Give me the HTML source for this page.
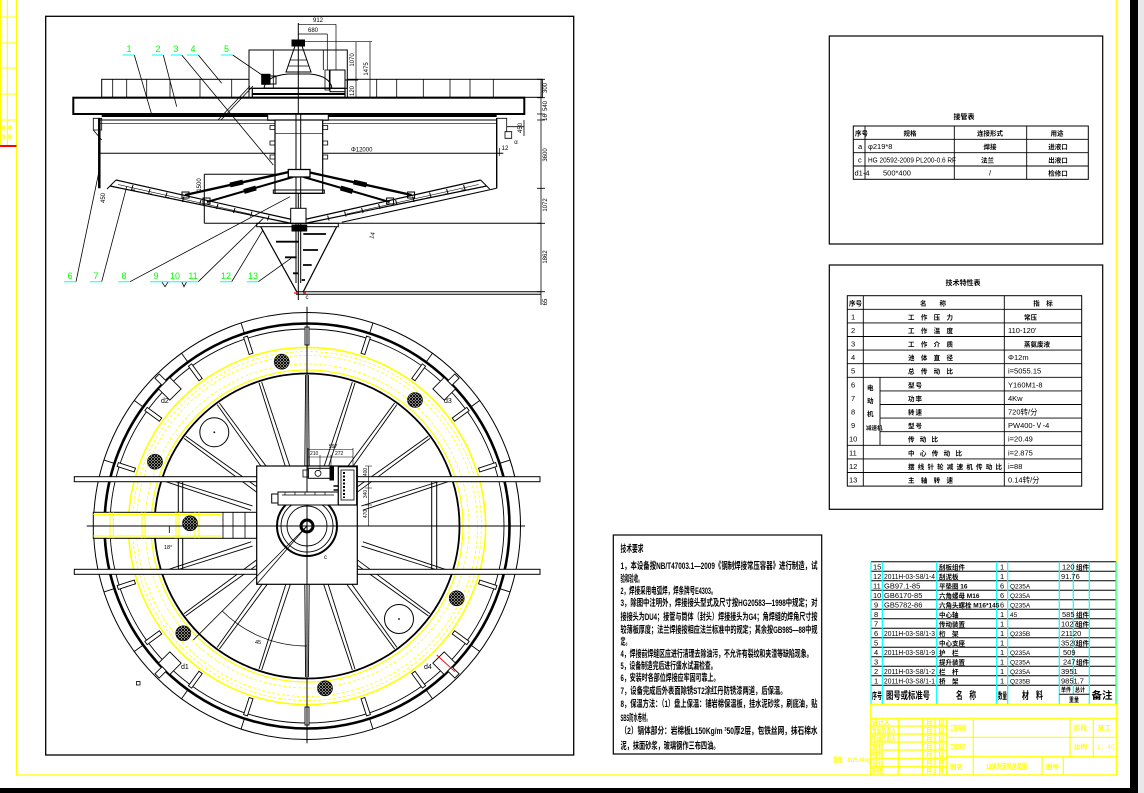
<!DOCTYPE html>
<html><head><meta charset="utf-8">
<style>
html,body{margin:0;padding:0;background:#fff;}
svg{display:block;}
text{font-family:"Liberation Sans","Noto Sans CJK SC",sans-serif;}
</style></head><body>
<svg width="1144" height="793" viewBox="0 0 1144 793" xmlns="http://www.w3.org/2000/svg">
<defs>
<pattern id="hx" width="3" height="3" patternUnits="userSpaceOnUse"><path d="M0 0L3 3M3 0L0 3" stroke="#000" stroke-width="1"/></pattern>
<g id="sp" stroke="#000" stroke-width="0.9" fill="none"><line x1="365" y1="523.8" x2="458" y2="524.6"/><line x1="365" y1="528.2" x2="458" y2="527.4"/></g>
<g id="sl" stroke="#000" stroke-width="0.9"><rect x="488" y="524" width="18" height="4" fill="#fff"/><line x1="509" y1="526" x2="520.5" y2="526"/></g>
<g id="mh" stroke="#000" stroke-width="0.9" fill="#fff"><rect x="493" y="518" width="16" height="16"/><rect x="509" y="523" width="10" height="6"/></g>
<g id="halfL" fill="none" stroke="#000">
<line x1="116" y1="180" x2="292" y2="219.5" stroke-width="1.2"/>
<line x1="110" y1="186" x2="292" y2="223.5" stroke-width="1.2"/>
<line x1="107" y1="189" x2="116" y2="180" stroke-width="1"/>
<line x1="118" y1="184.5" x2="250" y2="214" stroke-width="0.6"/>
<path d="M133 185l-1.5 5M150 189l-1.5 5M167 192.5l-1.5 5M184 196.5l-1.5 5M201 200l-1.5 5M218 204l-1.5 5M235 208l-1.5 5M252 211.5l-1.5 5M269 215.5l-1.5 5" stroke-width="1"/>
<path d="M131 190h4M148 194h4M165 197.5h4M182 201.5h4" stroke-width="0.8"/>
<line x1="289" y1="172" x2="185" y2="195" stroke-width="2.4"/>
<line x1="230" y1="185" x2="243" y2="182" stroke-width="5"/>
<line x1="293" y1="177" x2="207" y2="202" stroke-width="2"/>
<line x1="244" y1="191.5" x2="256" y2="188" stroke-width="5"/>
<rect x="182" y="192" width="7" height="6" stroke-width="1"/>
<rect x="203" y="198" width="7" height="6" stroke-width="1"/>
</g>
</defs>
<rect width="1144" height="793" fill="#fff"/>

<!-- outer borders -->
<path d="M16.5 0V775H1116.7V0" fill="none" stroke="#ffff00" stroke-width="1.2"/>
<g stroke="#ffff00" stroke-width="1"><line x1="7.3" y1="0" x2="7.3" y2="146"/><line x1="0.5" y1="0" x2="0.5" y2="146"/>
<line x1="0" y1="17" x2="16.5" y2="17"/><line x1="0" y1="43" x2="16.5" y2="43"/><line x1="0" y1="68" x2="16.5" y2="68"/><line x1="0" y1="94" x2="16.5" y2="94"/><line x1="0" y1="120" x2="16.5" y2="120"/></g>
<text x="1" y="130" font-size="5" fill="#ffff00" font-weight="bold">号 项</text>
<text x="1" y="139" font-size="5" fill="#ffff00" font-weight="bold">描 图</text>
<line x1="0" y1="146" x2="16.5" y2="146" stroke="#ff0000" stroke-width="2"/>
<rect x="1130" y="0" width="8" height="790" fill="#000"/>
<rect x="1138" y="0" width="6" height="793" fill="#e8e8ea"/>
<rect x="0" y="788" width="1138" height="5" fill="#000"/>

<rect x="45.7" y="16.3" width="528" height="738.7" fill="none" stroke="#000" stroke-width="1.3"/>

<!-- ================= ELEVATION ================= -->
<g stroke="#000" fill="none">
<rect x="101.7" y="79.3" width="147.3" height="18" stroke-width="1"/>
<rect x="347.3" y="79.3" width="195" height="18" stroke-width="1"/>
<path d="M112.7 79.3V97.3M126.7 79.3V97.3M146.7 79.3V97.3M170 79.3V97.3M200 79.3V97.3M231.7 79.3V97.3M376.7 79.3V97.3M396.7 79.3V97.3M423.3 79.3V97.3M450 79.3V97.3M470 79.3V97.3M493.3 79.3V97.3" stroke-width="0.8"/>
<rect x="249" y="50" width="98.3" height="38.3" stroke-width="1"/>
<path d="M273.3 50V88M323.3 50V70" stroke-width="0.8"/>
<rect x="252.3" y="88.3" width="92.7" height="9" stroke-width="1.2"/>
<line x1="252" y1="94" x2="345" y2="94" stroke-width="2"/>
<rect x="292" y="40" width="12.5" height="6" fill="#000"/>
<path d="M295 46L286 72H311L302 46Z" stroke-width="1"/>
<path d="M290 60H307M288 66H309" stroke-width="0.7"/>
<path d="M264 88Q266 76 288 74H310Q330 76 332 88Z" stroke-width="1"/>
<rect x="261.7" y="74.3" width="8.3" height="10" fill="#000"/>
<rect x="270" y="76" width="6" height="8" stroke-width="1"/>
<rect x="330" y="70" width="15" height="21.7" stroke-width="1"/>
<rect x="325" y="70" width="4.3" height="20" stroke-width="0.8"/>
<path d="M345 80H358" stroke-width="1"/>
<line x1="298.3" y1="23" x2="298.3" y2="300" stroke-width="1"/>
<path d="M298.3 24.3H336M298.3 34H327.3M327.3 34V70M336 24.3V70M298.3 41.7H372M356 41.7V97M370 41.7V97.3M345 97.3H372" stroke-width="0.7"/>
<rect x="73.3" y="97.7" width="451" height="16.3" stroke-width="2"/>
<rect x="101.7" y="114" width="395" height="3" fill="#000" stroke="none"/>
<rect x="267.7" y="114.3" width="60.6" height="6" fill="#fff" stroke-width="1"/>
<line x1="99.3" y1="120" x2="496.7" y2="120" stroke-width="1"/>
<line x1="99.3" y1="123.3" x2="496.7" y2="123.3" stroke-width="0.7"/>
<line x1="99.3" y1="118" x2="99.3" y2="188.3" stroke-width="2.5"/>
<line x1="496.7" y1="118" x2="496.7" y2="188.3" stroke-width="1.4"/>
<path d="M93.3 118.3H101.7V130H93.3ZM93.3 130L101.7 140" stroke-width="0.8"/>
<path d="M496.7 118.3H506.7V131.7M505 131.7H511.7V138.3H505ZM506.7 126.7H524M524 120V136" stroke-width="0.8"/>
<line x1="99.3" y1="153.3" x2="503.3" y2="153.3" stroke-width="1"/>
<line x1="499.3" y1="148" x2="499.3" y2="156" stroke-width="0.7"/>
<path d="M496.7 188.3L341.7 222.3" stroke-width="1"/>
<rect x="275" y="120" width="47.7" height="73.3" fill="#fff" stroke-width="1.2"/>
<line x1="275" y1="133.3" x2="322.7" y2="133.3" stroke-width="0.7"/>
<rect x="273.3" y="190" width="51" height="3.3" stroke-width="1"/>
<path d="M270 125.5h5v4h-5zM270 141h5v4h-5zM270 155h5v4h-5zM322.7 125.5h5v4h-5zM322.7 141h5v4h-5zM322.7 155h5v4h-5z" stroke-width="0.8"/>
<line x1="296" y1="114" x2="296" y2="283" stroke-width="1"/>
<line x1="300.7" y1="114" x2="300.7" y2="283" stroke-width="1"/>
<use href="#halfL"/>
<use href="#halfL" transform="translate(596.6 0) scale(-1 1)"/>
<rect x="288.3" y="169.5" width="21.7" height="7.5" fill="#fff" stroke-width="1.3"/>
<path d="M204.3 174.3H275M204.3 174.3V223.3M204.3 223.3H541" stroke-width="1"/>
<rect x="290.7" y="208.3" width="15.3" height="15" fill="#fff" stroke-width="1"/>
<rect x="256.7" y="223.3" width="81.6" height="3.4" stroke-width="1"/>
<rect x="292" y="225" width="14.7" height="6" fill="#000"/>
<path d="M260.7 226.7L296.7 291.7M336.7 226.7L303.3 291.7" stroke-width="1.2"/>
<path d="M303.3 234H326M276 241.7H299M303 250H318M285 257.3H296.7M303 265H311.7M293 273.3H298M301.7 280H305" stroke-width="1.8"/>
<path d="M296 291.7H541M296 294.3H541" stroke-width="1"/>
<path d="M294 293h4M303 293h3" stroke="#ff0000" stroke-width="1.2"/>
<line x1="541" y1="79.3" x2="541" y2="305" stroke-width="0.8"/>
<path d="M537 79.3H545M537 97.7H545M537 114H545M537 120H545M537 188.3H545M537 223.3H545M537 291.7H545" stroke-width="0.8"/>
<path d="M134.3 55L152.3 116.7M163.3 55L176.7 106.7M181.7 55L273.3 165M198.3 55L221.7 83.3M232.7 55L262 75M76 281.7L99.3 170M101.7 281.7L126.7 186.7M130 281.7L290 196.7M198.3 281.7L263.3 218.3M231.7 281.7L263 230M258.3 281.7L291 258.3M161.7 281.7L165 286.7L168.3 281.7M181.7 281.7L184 286.7L186.7 281.7" stroke-width="0.8"/>
<path d="M250 86L218 120M253 86L221 120" stroke-width="0.8"/>
</g>
<g stroke="#00ffff" stroke-width="1">
<path d="M122.7 55H134.3M152 55H163.3M170.7 55H181.7M186.7 55H198.3M221 55H232.7M64 281.7H76M90 281.7H101.7M118.3 281.7H130M150 281.7H186.7M186.7 281.7H198.3M220 281.7H231.7M246.7 281.7H258.3"/>
</g>
<g fill="#00ff00" font-size="9" text-anchor="middle">
<text x="129" y="52">1</text><text x="158" y="52">2</text><text x="176" y="52">3</text><text x="193" y="52">4</text><text x="226.5" y="52">5</text>
<text x="70" y="279">6</text><text x="96" y="279">7</text><text x="124" y="279">8</text><text x="156" y="279">9</text><text x="175" y="279">10</text><text x="193" y="279">11</text><text x="226" y="279">12</text><text x="253" y="279">13</text>
</g>
<g font-size="6" fill="#000" text-anchor="middle">
<text x="318" y="22">912</text><text x="313" y="32">680</text>
<text transform="translate(368 69) rotate(-90)">1475</text>
<text transform="translate(354 60) rotate(-90)">1070</text>
<text transform="translate(354 91) rotate(-90)">120</text>
<text x="361.7" y="151.5">Φ12000</text>
<text x="505" y="150">12</text>
<text x="516" y="144">α</text>
<text transform="translate(522 128) rotate(-90)">450</text>
<text transform="translate(201 185) rotate(-90)">1500</text>
<text transform="translate(105 198) rotate(-90)">450</text>
<text transform="translate(374 236) rotate(-75)">14</text>
<text x="307" y="299">c</text>
<text transform="translate(547 88) rotate(-90)">300</text>
<text transform="translate(547 106) rotate(-90)">540</text>
<text transform="translate(547 117.5) rotate(-90)">16</text>
<text transform="translate(547 155) rotate(-90)">3600</text>
<text transform="translate(547 205) rotate(-90)">1072</text>
<text transform="translate(547 257) rotate(-90)">1862</text>
<text transform="translate(547 302) rotate(-90)">65</text>
</g>

<!-- ================= PLAN ================= -->
<g stroke="#000" fill="none">
<use href="#sp" transform="rotate(18 307 526)"/><use href="#sp" transform="rotate(36 307 526)"/><use href="#sp" transform="rotate(54 307 526)"/><use href="#sp" transform="rotate(72 307 526)"/><use href="#sp" transform="rotate(90 307 526)"/><use href="#sp" transform="rotate(108 307 526)"/><use href="#sp" transform="rotate(126 307 526)"/><use href="#sp" transform="rotate(144 307 526)"/><use href="#sp" transform="rotate(162 307 526)"/>
<use href="#sp" transform="rotate(198 307 526)"/><use href="#sp" transform="rotate(216 307 526)"/><use href="#sp" transform="rotate(234 307 526)"/><use href="#sp" transform="rotate(252 307 526)"/><use href="#sp" transform="rotate(270 307 526)"/><use href="#sp" transform="rotate(288 307 526)"/><use href="#sp" transform="rotate(306 307 526)"/><use href="#sp" transform="rotate(324 307 526)"/><use href="#sp" transform="rotate(342 307 526)"/>
<circle cx="307" cy="526" r="213.5" stroke-width="1"/>
<circle cx="307" cy="526" r="202.5" stroke-width="2.6"/>
<circle cx="307" cy="526" r="197" stroke-width="0.9"/>
<circle cx="307" cy="526" r="152.5" stroke-width="1.8"/>
</g>
<g fill="none" stroke="#ffff00">
<circle cx="307" cy="526" r="178.6" stroke-width="1.6"/>
<circle cx="307" cy="526" r="174.5" stroke-width="0.8" stroke-dasharray="3 2"/>
<circle cx="307" cy="526" r="170.5" stroke-width="0.8" stroke-dasharray="3 2"/>
<circle cx="307" cy="526" r="162" stroke-width="0.8" stroke-dasharray="3 2"/>
<circle cx="307" cy="526" r="156" stroke-width="1.2"/>
</g>
<g>
<use href="#sl" transform="rotate(18 307 526)"/><use href="#sl" transform="rotate(36 307 526)"/><use href="#sl" transform="rotate(54 307 526)"/><use href="#sl" transform="rotate(72 307 526)"/><use href="#sl" transform="rotate(90 307 526)"/><use href="#sl" transform="rotate(108 307 526)"/><use href="#sl" transform="rotate(126 307 526)"/><use href="#sl" transform="rotate(144 307 526)"/><use href="#sl" transform="rotate(162 307 526)"/>
<use href="#sl" transform="rotate(198 307 526)"/><use href="#sl" transform="rotate(216 307 526)"/><use href="#sl" transform="rotate(234 307 526)"/><use href="#sl" transform="rotate(252 307 526)"/><use href="#sl" transform="rotate(270 307 526)"/><use href="#sl" transform="rotate(288 307 526)"/><use href="#sl" transform="rotate(306 307 526)"/><use href="#sl" transform="rotate(324 307 526)"/><use href="#sl" transform="rotate(342 307 526)"/>
<use href="#mh" transform="rotate(-135 307 526)"/><use href="#mh" transform="rotate(-45 307 526)"/><use href="#mh" transform="rotate(135 307 526)"/><use href="#mh" transform="rotate(45 307 526)"/>
</g>
<line x1="436.7" y1="655" x2="455" y2="671.7" stroke="#ff0000" stroke-width="0.9"/>
<g stroke="#000" stroke-width="1">
<rect x="74.3" y="476.7" width="465.7" height="5" fill="#fff"/>
<rect x="74.3" y="569.3" width="465.7" height="5" fill="#fff"/>
<path d="M178.3 481.7V569.3M182.7 481.7V569.3M431.7 481.7V569.3M436.7 481.7V569.3" fill="none"/>
<rect x="93.3" y="512.3" width="163.4" height="26" fill="#fff"/>
<path d="M223 512.3V538.3M233 512.3V538.3M245 512.3V538.3" fill="none" stroke-width="0.8"/>
</g>
<g stroke="#ffff00" stroke-width="1" fill="none">
<path d="M93.3 514.5H222M93.3 536H222M110 512.3V538.3M113.3 512.3V538.3M142 512.3V538.3M145 512.3V538.3M176 512.3V538.3M179 512.3V538.3M195 512.3V538.3M199 512.3V538.3"/>
</g>
<rect x="256.7" y="466" width="100.6" height="118.3" fill="#fff" stroke="#000" stroke-width="1.2"/>
<g stroke="#000" fill="none">
<line x1="307" y1="306.7" x2="307" y2="743.3" stroke-width="1"/>
<line x1="86.7" y1="526" x2="525" y2="526" stroke-width="1"/>
<circle cx="307" cy="526" r="30" stroke-width="2"/>
<circle cx="307" cy="526" r="26" stroke-width="0.9"/>
<circle cx="307" cy="526" r="20" stroke-width="0.9"/>
<circle cx="307" cy="526" r="6" stroke-width="3"/>
<line x1="307" y1="526" x2="256.7" y2="584.3" stroke-width="0.8"/>
<rect x="278" y="492" width="60.3" height="13" fill="#fff" stroke-width="1"/>
<rect x="271.7" y="494" width="6.3" height="9" stroke-width="1"/>
<path d="M282 495h52M285 492v3M295 492v3M305 492v3M315 492v3M325 492v3" stroke-width="0.7"/>
<rect x="308.3" y="468.3" width="21.7" height="10" fill="#fff" stroke-width="1"/>
<circle cx="318" cy="473.3" r="3" stroke-width="0.8"/>
<rect x="303" y="470" width="5.3" height="7" stroke-width="0.8"/>
<rect x="330" y="467" width="3.5" height="13" fill="#000"/>
<rect x="338.3" y="466.7" width="18.4" height="38.3" fill="#fff" stroke-width="1.2"/>
<rect x="341" y="470" width="13" height="30" stroke-width="0.8"/>
<path d="M344 472v26" stroke-width="2" stroke-dasharray="2 1.5"/>
<path d="M333.5 486h5M333.5 490h5" stroke-width="1.5"/>
<path d="M308 449.5H353M308 457H353M308 448V470M320 455V470M331 455V470M353 448V466M368.7 466V526M365 466H372M365 488H372M365 505H372" stroke-width="0.6"/>
<path d="M307 646A120 120 0 0 1 222.1 610.9" stroke-width="0.7"/>
<line x1="307" y1="526" x2="193.3" y2="640" stroke-width="0.8"/>
<line x1="169.3" y1="526" x2="169.3" y2="533" stroke-width="0.8"/>
<circle cx="214.3" cy="432.3" r="14.5" stroke-width="1"/>
<circle cx="399" cy="619" r="14.5" stroke-width="1"/>
<rect x="136.5" y="681.5" width="3.5" height="3.5" stroke-width="0.8"/>
</g>
<circle cx="214.3" cy="432.3" r="0.9" fill="#000"/><circle cx="399" cy="619" r="0.9" fill="#000"/>
<g fill="url(#hx)" stroke="#000" stroke-width="0.6">
<circle cx="281.7" cy="361.7" r="7.5"/><circle cx="415" cy="400" r="7.5"/><circle cx="155" cy="461.7" r="7.5"/><circle cx="190" cy="523.3" r="7.5"/><circle cx="183.3" cy="633.3" r="7.5"/><circle cx="456.7" cy="598.3" r="7.5"/><circle cx="325" cy="688.3" r="7.5"/>
</g>
<g font-size="7" fill="#000">
<text x="161" y="403">d2</text><text x="444" y="403">d3</text><text x="181" y="669">d1</text><text x="424" y="669">d4</text>
<text x="164" y="549" font-size="5.5">18°</text>
<text x="255" y="644" font-size="5.5">45</text>
<text x="324" y="559" font-size="6">c</text>
<text x="329" y="448" font-size="5">597</text>
<text x="310" y="455" font-size="5">210</text><text x="335" y="455" font-size="5">272</text>
<text transform="translate(367 472) rotate(-90)" font-size="5" text-anchor="middle">400</text>
<text transform="translate(367 494) rotate(-90)" font-size="5" text-anchor="middle">340</text>
<text transform="translate(367 514) rotate(-90)" font-size="5" text-anchor="middle">470</text>
</g>

<!-- ================= TABLE 1 ================= -->
<g stroke="#000" fill="none">
<rect x="829.3" y="36" width="273.4" height="208" stroke-width="1.2"/>
<rect x="853.3" y="126" width="235" height="53.3" stroke-width="1"/>
<path d="M853.3 139.3H1088.3M853.3 152.7H1088.3M853.3 166H1088.3M865 126V179.3M954.3 126V179.3M1026.7 126V179.3" stroke-width="0.9"/>
<rect x="829.3" y="265" width="273.4" height="244.3" stroke-width="1.2"/>
<rect x="847.3" y="295.7" width="234.4" height="190.4" stroke-width="1"/>
<path d="M847.3 309.3H1081.7M847.3 322.9H1081.7M847.3 336.5H1081.7M847.3 350.1H1081.7M847.3 363.7H1081.7M847.3 377.3H1081.7M880 390.9H1081.7M880 404.5H1081.7M880 418.1H1081.7M880 431.7H1081.7M847.3 445.3H1081.7M847.3 458.9H1081.7M847.3 472.5H1081.7M863.3 295.7V486.1M1004.3 295.7V486.1M880 377.3V445.3" stroke-width="0.9"/>
</g>
<g font-size="7.5" fill="#000" font-weight="bold">
<text x="964" y="119" text-anchor="middle" font-size="7">接管表</text>
<text x="855" y="135.5" font-size="6.5">序号</text>
<text x="910" y="135.5" text-anchor="middle" font-size="6.5">规格</text>
<text x="990" y="135.5" text-anchor="middle" font-size="6.5">连接形式</text>
<text x="1057" y="135.5" text-anchor="middle" font-size="6.5">用途</text>
<text x="858" y="149" font-weight="normal">a</text><text x="868" y="149" font-weight="normal">φ219*8</text><text x="990" y="149" text-anchor="middle" font-size="6.5">焊接</text><text x="1058" y="149" text-anchor="middle" font-size="6.5">进液口</text>
<text x="858" y="162.3" font-weight="normal">c</text><text x="868" y="162.3" font-weight="normal" textLength="88" lengthAdjust="spacingAndGlyphs">HG 20592-2009  PL200-0.6 RF</text><text x="981" y="162.3" font-size="6.5">法兰</text><text x="1058" y="162.3" text-anchor="middle" font-size="6.5">出液口</text>
<text x="854.5" y="175.5" font-weight="normal">d1-4</text><text x="883" y="175.5" font-weight="normal">500*400</text><text x="990" y="175.5" text-anchor="middle" font-weight="normal">/</text><text x="1058" y="175.5" text-anchor="middle" font-size="6.5">检修口</text>
</g>
<g font-size="7.5" fill="#000" font-weight="bold">
<text x="963" y="285" text-anchor="middle" font-size="7">技术特性表</text>
<text x="849" y="305.5" font-size="6.5">序号</text>
<text x="933" y="305.5" text-anchor="middle" font-size="6.5">名　　称</text>
<text x="1043" y="305.5" text-anchor="middle" font-size="6.5">指　标</text>
<g font-weight="normal">
<text x="851" y="319.3">1</text><text x="851" y="332.9">2</text><text x="851" y="346.5">3</text><text x="851" y="360.1">4</text><text x="851" y="373.7">5</text><text x="851" y="387.3">6</text><text x="851" y="400.9">7</text><text x="851" y="414.5">8</text><text x="851" y="428.1">9</text><text x="849" y="441.7">10</text><text x="849" y="455.3">11</text><text x="849" y="468.9">12</text><text x="849" y="482.5">13</text>
</g>
<g font-size="6.5">
<text x="908" y="319.3" textLength="45">工作压力</text>
<text x="908" y="332.9" textLength="45">工作温度</text>
<text x="908" y="346.5" textLength="45">工作介质</text>
<text x="908" y="360.1" textLength="45">池体直径</text>
<text x="908" y="373.7" textLength="45">总传动比</text>
<text x="908" y="387.3" textLength="14">型号</text>
<text x="908" y="400.9" textLength="14">功率</text>
<text x="908" y="414.5" textLength="14">转速</text>
<text x="908" y="428.1" textLength="14">型号</text>
<text x="908" y="441.7" textLength="30">传动比</text>
<text x="908" y="455.3" textLength="54">中心传动比</text>
<text x="908" y="468.9" textLength="94">摆线针轮减速机传动比</text>
<text x="908" y="482.5" textLength="45">主轴转速</text>
<text x="867" y="390">电</text><text x="867" y="403">动</text><text x="867" y="416">机</text>
<text x="866" y="430" font-size="5.5">减速机</text>
<text x="1024" y="319.3">常压</text>
<text x="1024" y="346.5">蒸氨废液</text>
</g>
<g font-weight="normal">
<text x="1008" y="332.9">110-120'</text>
<text x="1008" y="360.1">Φ12m</text>
<text x="1008" y="373.7">i=5055.15</text>
<text x="1008" y="387.3">Y160M1-8</text>
<text x="1008" y="400.9">4Kw</text>
<text x="1008" y="414.5">720转/分</text>
<text x="1008" y="428.1">PW400-Ⅴ-4</text>
<text x="1008" y="441.7">i=20.49</text>
<text x="1008" y="455.3">i=2.875</text>
<text x="1008" y="468.9">i=88</text>
<text x="1008" y="482.5">0.14转/分</text>
</g>
</g>

<!-- ================= TECH REQ ================= -->
<rect x="613.3" y="535" width="208.4" height="219" fill="none" stroke="#000" stroke-width="1.2"/>
<g font-size="9.5" fill="#000" font-weight="bold">
<text x="620.5" y="552" textLength="23" lengthAdjust="spacingAndGlyphs">技术要求</text>
<text x="620.5" y="569" textLength="197" lengthAdjust="spacingAndGlyphs">1，本设备按NB/T47003.1—2009《钢制焊接常压容器》进行制造，试</text>
<text x="620.5" y="582" textLength="22" lengthAdjust="spacingAndGlyphs">验和验收。</text>
<text x="620.5" y="594" textLength="96" lengthAdjust="spacingAndGlyphs">2，焊接采用电弧焊，焊条牌号E4303。</text>
<text x="620.5" y="606" textLength="197" lengthAdjust="spacingAndGlyphs">3，除图中注明外，焊接接头型式及尺寸按HG20583—1998中规定；对</text>
<text x="620.5" y="620" textLength="197" lengthAdjust="spacingAndGlyphs">接接头为DU4；接管与筒体（封头）焊接接头为G4；角焊缝的焊角尺寸按</text>
<text x="620.5" y="633" textLength="197" lengthAdjust="spacingAndGlyphs">较薄板厚度；法兰焊接按相应法兰标准中的规定；其余按GB985—88中规</text>
<text x="620.5" y="645" textLength="10" lengthAdjust="spacingAndGlyphs">定。</text>
<text x="620.5" y="657" textLength="192" lengthAdjust="spacingAndGlyphs">4，焊接前焊缝区应进行清理去除油污，不允许有裂纹和夹渣等缺陷现象。</text>
<text x="620.5" y="669" textLength="96" lengthAdjust="spacingAndGlyphs">5，设备制造完后进行盛水试漏检查。</text>
<text x="620.5" y="681" textLength="99" lengthAdjust="spacingAndGlyphs">6，安装时各部位焊接应牢固可靠上。</text>
<text x="620.5" y="694" textLength="166" lengthAdjust="spacingAndGlyphs">7，设备完成后外表面除锈ST2涂红丹防锈漆两道，后保温。</text>
<text x="620.5" y="707" textLength="197" lengthAdjust="spacingAndGlyphs">8，保温方法：（1）盘上保温：铺岩棉保温板，挂水泥砂浆，刷底油，贴</text>
<text x="620.5" y="721" textLength="30" lengthAdjust="spacingAndGlyphs">SBS防水卷材。</text>
<text x="620.5" y="734" textLength="197" lengthAdjust="spacingAndGlyphs">（2）锅体部分：岩棉板L150Kg/m ³50厚2层，包铁丝网，抹石棉水</text>
<text x="620.5" y="749" textLength="99" lengthAdjust="spacingAndGlyphs">泥，抹面砂浆，玻璃钢作三布四油。</text>
</g>

<!-- ================= PARTS LIST ================= -->
<g stroke="#000" stroke-width="1">
<path d="M871 561.7H1116M871 571.2H1116M871 580.7H1116M871 590.2H1116M871 599.7H1116M871 609.2H1116M871 618.7H1116M871 628.3H1116M871 637.8H1116M871 647.3H1116M871 656.8H1116M871 666.3H1116M871 675.8H1116M871 685.3H1116"/>
</g>
<g stroke="#00ffff" stroke-width="1.2">
<path d="M871 561.7V704.3M882.3 561.7V704.3M936.7 561.7V704.3M996.7 561.7V704.3M1007.7 561.7V704.3M1059.3 561.7V704.3M1073.3 561.7V694.3M1089.3 561.7V704.3M1116 561.7V704.3"/>
</g>
<line x1="1059.3" y1="694.3" x2="1089.3" y2="694.3" stroke="#000" stroke-width="1"/>
<g font-size="7.5" fill="#000">
<text x="873" y="569.5">15</text><text x="873" y="579">12</text><text x="873" y="588.5">11</text><text x="873" y="598">10</text><text x="874" y="607.5">9</text><text x="874" y="617">8</text><text x="874" y="626.5">7</text><text x="874" y="636">6</text><text x="874" y="645.5">5</text><text x="874" y="655">4</text><text x="874" y="664.5">3</text><text x="874" y="674">2</text><text x="874" y="683.5">1</text>
<text x="884" y="579" textLength="51" lengthAdjust="spacingAndGlyphs">2011H-03-S8/1-4</text>
<text x="884" y="588.5">GB97.1-85</text>
<text x="884" y="598">GB6170-85</text>
<text x="884" y="607.5">GB5782-86</text>
<text x="884" y="636" textLength="51" lengthAdjust="spacingAndGlyphs">2011H-03-S8/1-3</text>
<text x="884" y="655" textLength="51" lengthAdjust="spacingAndGlyphs">2011H-03-S8/1-9</text>
<text x="884" y="674" textLength="51" lengthAdjust="spacingAndGlyphs">2011H-03-S8/1-2</text>
<text x="884" y="683.5" textLength="51" lengthAdjust="spacingAndGlyphs">2011H-03-S8/1-1</text>
<g font-size="6.5" font-weight="bold">
<text x="939" y="569.5">刮板组件</text><text x="939" y="579">刮泥板</text><text x="939" y="588.5">平垫圈 16</text><text x="939" y="598">六角螺母 M16</text><text x="939" y="607.5">六角头螺栓 M16*145</text><text x="939" y="617">中心轴</text><text x="939" y="626.5">传动装置</text><text x="939" y="636">桁　架</text><text x="939" y="645.5">中心支座</text><text x="939" y="655">护　栏</text><text x="939" y="664.5">提升装置</text><text x="939" y="674">栏　杆</text><text x="939" y="683.5">桥　架</text>
</g>
<text x="1000" y="569.5">1</text><text x="1000" y="579">1</text><text x="1000" y="588.5">6</text><text x="1000" y="598">6</text><text x="1000" y="607.5">6</text><text x="1000" y="617">1</text><text x="1000" y="626.5">1</text><text x="1000" y="636">1</text><text x="1000" y="645.5">1</text><text x="1000" y="655">1</text><text x="1000" y="664.5">1</text><text x="1000" y="674">1</text><text x="1000" y="683.5">1</text>
<g font-size="6.5">
<text x="1010" y="588.5">Q235A</text><text x="1010" y="598">Q235A</text><text x="1010" y="607.5">Q235A</text><text x="1010" y="617">45</text><text x="1010" y="636">Q235B</text><text x="1010" y="655">Q235A</text><text x="1010" y="664.5">Q235A</text><text x="1010" y="674">Q235A</text><text x="1010" y="683.5">Q235B</text>
</g>
<text x="1062" y="569.5">120</text><text x="1061" y="579">91.76</text><text x="1062" y="617">585</text><text x="1061" y="626.5">1027</text><text x="1061" y="636">21120</text><text x="1061" y="645.5">3520</text><text x="1063" y="655">509</text><text x="1063" y="664.5">247</text><text x="1061" y="674">3951</text><text x="1061" y="683.5">9851.7</text>
<g font-size="6.5" font-weight="bold"><text x="1076" y="569.5">组件</text><text x="1076" y="617">组件</text><text x="1076" y="626.5">组件</text><text x="1076" y="645.5">组件</text><text x="1076" y="664.5">组件</text></g>
</g>
<g fill="#000" font-weight="bold">
<text x="872" y="699" font-size="9" textLength="10" lengthAdjust="spacingAndGlyphs">序号</text>
<text x="886" y="699" font-size="10" textLength="44" lengthAdjust="spacingAndGlyphs">图号或标准号</text>
<text x="956" y="699" font-size="10" textLength="20" lengthAdjust="spacingAndGlyphs">名　称</text>
<text x="998" y="699" font-size="9" textLength="9" lengthAdjust="spacingAndGlyphs">数量</text>
<text x="1022" y="699" font-size="10" textLength="21" lengthAdjust="spacingAndGlyphs">材　料</text>
<text x="1061" y="692" font-size="6" textLength="10" lengthAdjust="spacingAndGlyphs">单件</text>
<text x="1075" y="692" font-size="6" textLength="10" lengthAdjust="spacingAndGlyphs">总计</text>
<text x="1069" y="702" font-size="6" textLength="10" lengthAdjust="spacingAndGlyphs">重量</text>
<text x="1091.5" y="699" font-size="10" textLength="21" lengthAdjust="spacingAndGlyphs">备注</text>
</g>

<!-- ================= TITLE BLOCK ================= -->
<g stroke="#ffff00" stroke-width="1.2" fill="none">
<rect x="870.7" y="704.3" width="246" height="70.7"/>
<path d="M870.7 718.3H1116.7M870.7 726H946.7M870.7 734H946.7M870.7 742H946.7M870.7 750H946.7M870.7 758.3H946.7M870.7 766.7H946.7M898.3 718.3V775M922.7 718.3V775M935 718.3V775M946.7 718.3V775M973.3 718.3V775M1070 718.3V756.7M1093.3 718.3V756.7M946.7 737.3H1116.7M946.7 756.7H1116.7M1042 756.7V775M1063.3 756.7V775"/>
</g>
<g fill="#ffff00" font-size="6.5" font-weight="bold">
<text x="872" y="724.5" textLength="18" lengthAdjust="spacingAndGlyphs">设计人</text>
<text x="872" y="732.3" textLength="24" lengthAdjust="spacingAndGlyphs">专业负责人</text>
<text x="872" y="740.3" textLength="24" lengthAdjust="spacingAndGlyphs">项目负责人</text>
<text x="872" y="748.3" textLength="12" lengthAdjust="spacingAndGlyphs">审核</text>
<text x="872" y="756.5" textLength="12" lengthAdjust="spacingAndGlyphs">校核</text>
<text x="872" y="764.8" textLength="12" lengthAdjust="spacingAndGlyphs">设计</text>
<text x="872" y="773" textLength="12" lengthAdjust="spacingAndGlyphs">制图</text>
<text x="926" y="724.5">月</text><text x="938" y="724.5">日</text>
<text x="926" y="732.3">月</text><text x="938" y="732.3">日</text>
<text x="926" y="740.3">月</text><text x="938" y="740.3">日</text>
<text x="926" y="748.3">月</text><text x="938" y="748.3">日</text>
<text x="926" y="756.5">月</text><text x="938" y="756.5">日</text>
<text x="926" y="764.8">月</text><text x="938" y="764.8">日</text>
<text x="926" y="773">月</text><text x="938" y="773">日</text>
<text x="950" y="730" textLength="16" lengthAdjust="spacingAndGlyphs">工程名称</text>
<text x="1074" y="730">阶段</text><text x="1098" y="730">施工</text>
<text x="950" y="749" textLength="16" lengthAdjust="spacingAndGlyphs">工程项目</text>
<text x="1074" y="749">比例</text><text x="1097" y="749" font-weight="normal">1：40</text>
<text x="950" y="769">图名</text>
<text x="986" y="769" font-size="7.5" textLength="41" lengthAdjust="spacingAndGlyphs">12米刮泥机总装图</text>
<text x="1046" y="769">图号</text>
<text x="833" y="762" font-size="6.5" textLength="37" lengthAdjust="spacingAndGlyphs">重量：4125.44kg</text>
</g>
</svg>
</body></html>
